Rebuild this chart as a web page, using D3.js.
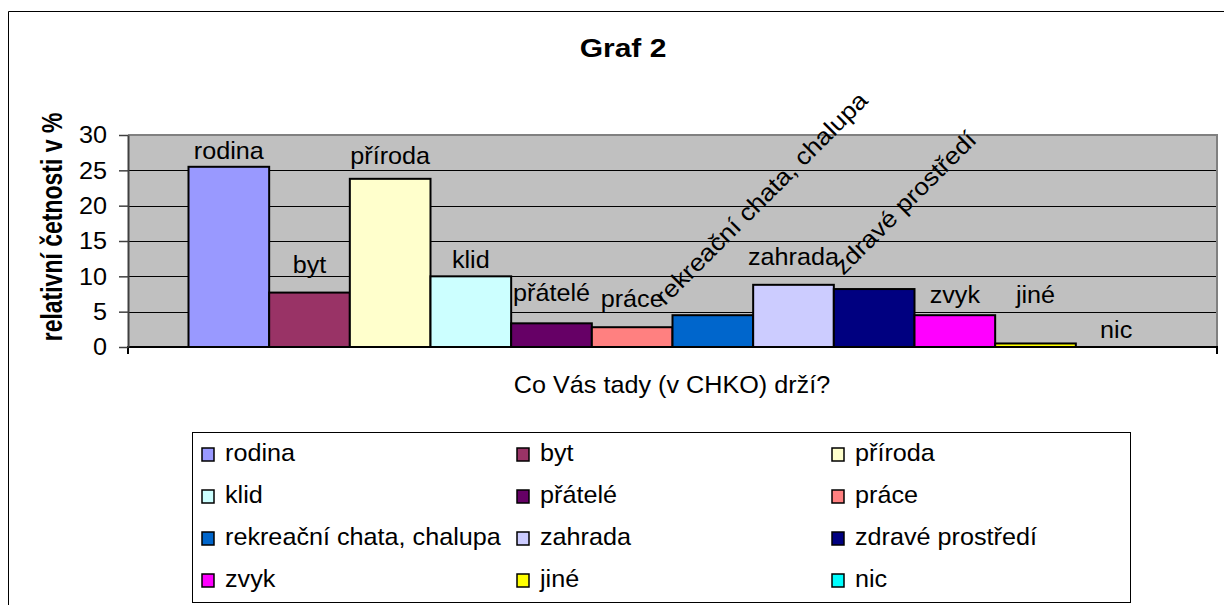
<!DOCTYPE html>
<html>
<head>
<meta charset="utf-8">
<title>Graf 2</title>
<script src="https://d3js.org/d3.v7.min.js"></script>
<style>
  body { margin: 0; background: #fff; }
  text { font-family: "Liberation Sans", Arial, sans-serif; fill: #000; }
</style>
</head>
<body>
<div id="chart"></div>
<script>
// data ..............................................
var categories = ['rodina', 'byt', 'příroda', 'klid', 'přátelé', 'práce',
  'rekreační chata, chalupa', 'zahrada', 'zdravé prostředí', 'zvyk', 'jiné', 'nic'];
var values = [25.5, 7.7, 23.8, 10.0, 3.35, 2.8, 4.5, 8.8, 8.2, 4.5, 0.5, 0];
var colors = ['#9999ff', '#993366', '#ffffcc', '#ccffff', '#660066', '#ff8080',
  '#0066cc', '#ccccff', '#000080', '#ff00ff', '#ffff00', '#00ffff'];
var yTicks = [0, 5, 10, 15, 20, 25, 30];
var rotated = ['rekreační chata, chalupa', 'zdravé prostředí'];

// labels were dragged around by hand in the original sheet
var labelLift = [8, 20, 15, 8, 22, 20, 9, 20, 13, 12, 40, 9];
var labelShift = [0, 0, 0, 0, 0, 0, -48, 0, -31, 0, 0, 0];

var width = 1224, height = 605;
var plot = { left: 128, top: 135, right: 1217, bottom: 347 };
var fs = 24;     // base font size
var wide = 1.05; // the original text runs a bit wide

var svg = d3.select('#chart').append('svg')
  .attr('width', width)
  .attr('height', height);

function wideText(g, str, x, y, anchor, size, weight, k) {
  return g.append('text')
    .attr('transform', 'translate(' + x + ',' + y + ') scale(' + k + ',1)')
    .attr('text-anchor', anchor)
    .style('font-size', size + 'px')
    .style('font-weight', weight)
    .text(str);
}

// outer frame
svg.append('path')
  .attr('d', 'M8.5,' + height + 'V11.5H' + width)
  .attr('fill', 'none')
  .attr('stroke', '#000')
  .attr('stroke-width', 1);

// scales
var y = d3.scaleLinear().domain([0, 30]).range([plot.bottom, plot.top]);
var x = d3.scaleBand().domain(categories)
  .range([plot.left, plot.right])
  .paddingInner(0)
  .paddingOuter(0.75);

// plot area
svg.append('rect')
  .attr('x', plot.left).attr('y', plot.top)
  .attr('width', plot.right - plot.left)
  .attr('height', plot.bottom - plot.top)
  .attr('fill', '#c0c0c0');

svg.append('g').selectAll('line')
  .data(yTicks.filter(function(d) { return d > 0; }))
  .enter().append('line')
  .attr('x1', plot.left).attr('x2', plot.right)
  .attr('y1', function(d) { return Math.round(y(d)) + 0.5; })
  .attr('y2', function(d) { return Math.round(y(d)) + 0.5; })
  .attr('stroke', '#000')
  .attr('stroke-width', 1);

svg.append('path')
  .attr('d', 'M' + plot.left + ',' + plot.top + 'H' + plot.right + 'V' + plot.bottom)
  .attr('fill', 'none')
  .attr('stroke', '#808080')
  .attr('stroke-width', 2);

// bars
svg.append('g').selectAll('rect')
  .data(values)
  .enter().append('rect')
  .attr('x', function(d, i) { return x(categories[i]); })
  .attr('y', function(d) { return y(d); })
  .attr('width', x.bandwidth())
  .attr('height', function(d) { return plot.bottom - y(d); })
  .attr('fill', function(d, i) { return colors[i]; })
  .attr('stroke', '#000')
  .attr('stroke-width', 2);

// x axis
svg.append('path')
  .attr('d', 'M' + plot.left + ',' + (plot.bottom + 7) + 'V' + plot.bottom + 'H' + plot.right + 'V' + (plot.bottom + 7))
  .attr('fill', 'none')
  .attr('stroke', '#000')
  .attr('stroke-width', 2);

// y axis
var yAxis = d3.axisLeft(y).tickValues(yTicks).tickSize(9).tickSizeOuter(0);
var yGuide = svg.append('g')
  .attr('transform', 'translate(' + plot.left + ',0)')
  .call(yAxis);
yGuide.select('.domain').attr('stroke', '#404040').attr('stroke-width', 2);
yGuide.selectAll('line').attr('stroke', '#404040').attr('stroke-width', 1.5);
yGuide.selectAll('text')
  .attr('x', -21 / wide)
  .attr('transform', 'scale(' + wide + ',1)')
  .attr('font-family', null)
  .attr('font-size', null)
  .style('font-size', fs + 'px');

// data labels
var labels = svg.append('g');
values.forEach(function(v, i) {
  var cx = x(categories[i]) + x.bandwidth() / 2;
  var top = y(v);
  if (rotated.indexOf(categories[i]) !== -1) {
    labels.append('text')
      .attr('transform', 'translate(' + (cx + labelShift[i]) + ',' + (top - labelLift[i]) + ') rotate(-45) scale(1.1,1)')
      .attr('text-anchor', 'start')
      .style('font-size', fs + 'px')
      .text(categories[i]);
  } else {
    wideText(labels, categories[i], cx + labelShift[i], top - labelLift[i], 'middle', fs, 'normal', wide);
  }
});

// titles
wideText(svg, 'Graf 2', 623, 57, 'middle', 25, 'bold', 1.2);
wideText(svg, 'Co Vás tady (v CHKO) drží?', 672, 393, 'middle', fs, 'normal', wide);
svg.append('text')
  .attr('transform', 'translate(62,227) rotate(-90) scale(1,1.3)')
  .attr('text-anchor', 'middle')
  .style('font-size', '23px')
  .style('font-weight', 'bold')
  .text('relativní četnosti v %');

// legend
var legend = svg.append('g');
legend.append('rect')
  .attr('x', 192.5).attr('y', 432.5)
  .attr('width', 938).attr('height', 170)
  .attr('fill', '#fff')
  .attr('stroke', '#000')
  .attr('stroke-width', 1);

categories.forEach(function(c, i) {
  var col = i % 3, row = Math.floor(i / 3);
  legend.append('rect')
    .attr('x', 202 + col * 315).attr('y', 448 + row * 42)
    .attr('width', 12).attr('height', 13)
    .attr('fill', colors[i])
    .attr('stroke', '#000')
    .attr('stroke-width', 1.5);
  wideText(legend, c, 225 + col * 315, 461 + row * 42, 'start', fs, 'normal', wide);
});
</script>
</body>
</html>
